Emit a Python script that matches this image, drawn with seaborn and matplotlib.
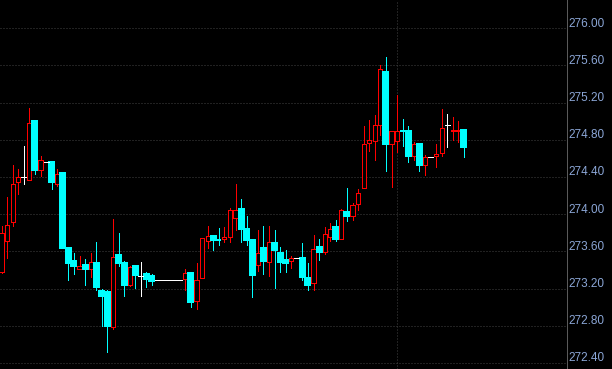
import numpy as np
import pandas as pd
import matplotlib
matplotlib.use("Agg")
import matplotlib.pyplot as plt
import matplotlib.transforms as mtransforms
import seaborn as sns

# ---- data ----
opens = [
    273.38, 273.71, 273.92, 274.35, 274.40, 274.37, 275.00, 274.48, 274.56, 274.56,
    274.33, 274.44, 273.64, 273.50, 273.41, 273.45, 273.41, 273.48, 273.17, 273.16,
    272.79, 273.56, 273.47, 273.24, 273.44, 273.33, 273.36, 273.33, 273.29, 273.29,
    273.29, 273.29, 273.29, 273.30, 273.37, 273.07, 273.31, 273.71, 273.77, 273.727,
    273.73, 273.76, 273.96, 274.06, 273.84, 273.72, 273.45, 273.64, 273.49, 273.69,
    273.58, 273.51, 273.50, 273.53, 273.53, 273.31, 273.26, 273.65, 273.59, 273.76,
    273.86, 273.73, 274.02, 273.98, 274.11, 274.28, 274.77, 274.79, 274.96, 275.53,
    274.76, 274.79, 274.897, 274.89, 274.63, 274.76, 274.53, 274.62, 274.63, 274.66,
    274.96, 274.89, 274.89, 274.91,
]
closes = [
    273.80, 273.88, 274.32, 274.40, 274.40, 274.98, 274.48, 274.58, 274.56, 274.35,
    274.43, 273.64, 273.48, 273.44, 273.44, 273.41, 273.49, 273.22, 273.12, 272.80,
    273.54, 273.48, 273.24, 273.43, 273.35, 273.33, 273.30, 273.28, 273.29, 273.29,
    273.29, 273.29, 273.29, 273.37, 273.06, 273.29, 273.74, 273.77, 273.72, 273.72,
    273.76, 274.04, 274.05, 273.84, 273.72, 273.35, 273.58, 273.50, 273.70, 273.61,
    273.49, 273.47, 273.53, 273.53, 273.32, 273.24, 273.63, 273.59, 273.79, 273.84,
    273.73, 274.05, 273.98, 274.10, 274.23, 274.75, 274.80, 274.96, 275.56, 274.76,
    274.89, 274.90, 274.893, 274.63, 274.76, 274.53, 274.61, 274.62, 274.65, 274.93,
    274.96, 274.91, 274.91, 274.72,
]
highs = [
    273.87, 274.18, 274.53, 274.49, 274.73, 275.14, 275.00, 274.63, 274.56, 274.57,
    274.49, 274.44, 273.64, 273.58, 273.55, 273.52, 273.58, 273.70, 273.20, 273.18,
    273.95, 273.80, 273.50, 273.44, 273.44, 273.49, 273.38, 273.36, 273.29, 273.29,
    273.29, 273.29, 273.29, 273.41, 273.38, 273.48, 273.74, 273.87, 273.77, 273.85,
    273.86, 274.07, 274.32, 274.16, 273.98, 273.73, 273.83, 273.87, 273.87, 273.83,
    273.65, 273.61, 273.55, 273.53, 273.69, 273.48, 273.78, 273.73, 273.86, 273.91,
    273.94, 274.06, 274.28, 274.12, 274.27, 274.95, 275.01, 275.07, 275.61, 275.69,
    274.89, 275.28, 275.02, 274.95, 274.78, 274.77, 274.64, 274.62, 274.75, 275.13,
    275.08, 275.05, 275.00, 274.91,
]
lows = [
    273.37, 273.53, 273.87, 274.22, 274.33, 274.37, 274.43, 274.41, 274.56, 274.27,
    274.30, 273.64, 273.29, 273.36, 273.41, 273.24, 273.32, 273.18, 272.80, 272.52,
    272.77, 273.44, 273.12, 273.23, 273.21, 273.12, 273.22, 273.24, 273.29, 273.29,
    273.29, 273.29, 273.29, 273.19, 273.00, 272.98, 273.31, 273.64, 273.62, 273.67,
    273.70, 273.70, 273.83, 273.70, 273.67, 273.11, 273.39, 273.36, 273.34, 273.21,
    273.38, 273.38, 273.42, 273.53, 273.29, 273.19, 273.19, 273.51, 273.57, 273.71,
    273.71, 273.73, 273.93, 273.94, 274.05, 274.28, 274.68, 274.58, 274.85, 274.47,
    274.29, 274.67, 274.73, 274.56, 274.58, 274.47, 274.42, 274.62, 274.51, 274.63,
    274.72, 274.80, 274.78, 274.61,
]
ytick_values = [276.00, 275.60, 275.20, 274.80, 274.40, 274.00, 273.60, 273.20, 272.80, 272.40]
ytick_labels = ["276.00", "275.60", "275.20", "274.80", "274.40", "274.00",
                "273.60", "273.20", "272.80", "272.40"]
session_break = 71

df = pd.DataFrame({"open": opens, "high": highs, "low": lows, "close": closes})
df["idx"] = np.arange(len(df))

# ---- style ----
sns.set_style("dark", {"axes.facecolor": "black", "figure.facecolor": "black",
                       "grid.color": "#404040"})
plt.rcParams["font.family"] = ["Liberation Sans", "DejaVu Sans"]

UP = "#ff0000"
DOWN = "#00ffff"
FLAT = "#ffffff"
GRID = "#424242"
LABEL = "#8ba6d6"

fig = plt.figure(figsize=(6.12, 3.69), dpi=100, facecolor="black")
ax = fig.add_axes([0, 0, 567 / 612, 1])
ax.set_facecolor("black")

px = 0.72  # one pixel in points
w_fill = 0.88
w_hollow = 0.76

up = df[df.close > df.open]
down = df[df.close < df.open]
flat = df[df.close == df.open]

# wicks
ax.vlines(up.idx, up.close, up.high, color=UP, lw=px, zorder=3, antialiased=False)
ax.vlines(up.idx, up.low, up.open, color=UP, lw=px, zorder=3, antialiased=False)
ax.vlines(down.idx, down.low, down.high, color=DOWN, lw=px, zorder=3, antialiased=False)
ax.vlines(flat.idx, flat.low, flat.high, color=FLAT, lw=px, zorder=3, antialiased=False)

# bodies
ax.bar(up.idx, up.close - up.open, bottom=up.open, width=w_hollow,
       facecolor="black", edgecolor=UP, linewidth=px, zorder=4, antialiased=False)
ax.bar(down.idx, down.open - down.close, bottom=down.close, width=w_fill,
       facecolor=DOWN, edgecolor=DOWN, linewidth=0.3, zorder=4, antialiased=False)
ax.hlines(flat.open, flat.idx - w_fill / 2, flat.idx + w_fill / 2,
          color=FLAT, lw=px, zorder=4, antialiased=False)

# grid
for v in ytick_values:
    ax.axhline(v, color=GRID, lw=px, linestyle=(0, (1, 2)), zorder=1)
ax.axvline(session_break, color=GRID, lw=px, linestyle=(0, (1, 2)), zorder=1)

ax.set_xlim(-0.27, 101.5)
ax.set_ylim(272.335, 276.304)

ax.set_xticks([])
ax.set_yticks([])
ax.grid(False)

# price labels right of the axis line, sitting just above each grid line
trans = mtransforms.blended_transform_factory(ax.transAxes, ax.transData)
trans = trans + mtransforms.ScaledTranslation(1.5 / 100, 1.6 / 100, fig.dpi_scale_trans)
for v, t in zip(ytick_values, ytick_labels):
    ax.text(1.0, v, t, transform=trans, ha="left", va="baseline",
            fontsize=8.5, color=LABEL, clip_on=False)

for s in ["top", "left", "bottom"]:
    ax.spines[s].set_visible(False)
ax.spines["right"].set_visible(True)
ax.spines["right"].set_color("#5a5a5a")
ax.spines["right"].set_linewidth(px)

fig.savefig("out.png", dpi=100, facecolor="black")
